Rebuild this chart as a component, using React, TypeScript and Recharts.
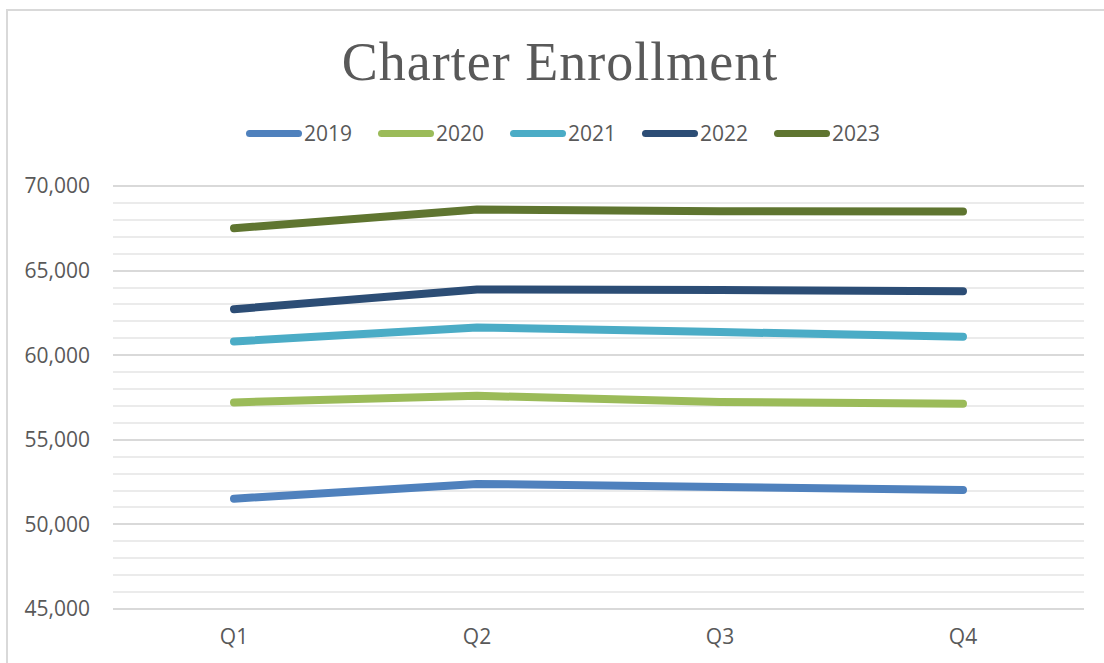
import React from 'react';
import { LineChart, Line, XAxis, YAxis, CartesianGrid } from 'recharts';

const quarters = ['Q1', 'Q2', 'Q3', 'Q4'];
const years = ['2019', '2020', '2021', '2022', '2023'];
const enroll2019 = [51520, 52390, 52210, 52040];
const enroll2020 = [57210, 57600, 57230, 57130];
const enroll2021 = [60815, 61640, 61370, 61090];
const enroll2022 = [62720, 63880, 63850, 63780];
const enroll2023 = [67500, 68610, 68510, 68490];
const yTicks = [45000, 50000, 55000, 60000, 65000, 70000];
const minorTicks = [
    46000, 47000, 48000, 49000, 51000, 52000, 53000, 54000, 56000, 57000, 58000, 59000,
    61000, 62000, 63000, 64000, 66000, 67000, 68000, 69000,
];

const COLORS = ['#4f81bd', '#9bbb59', '#4bacc6', '#2c4d75', '#5f7530'];
const seriesValues = [enroll2019, enroll2020, enroll2021, enroll2022, enroll2023];

const data = quarters.map((q, i) => {
    const row: any = { quarter: q };
    years.forEach((y, j) => { row[y] = seriesValues[j][i]; });
    return row;
});

const TEXT = '#595959';
const FONT = '"Open Sans", sans-serif';

export default function App() {
    return (
        <div style={{ position: 'fixed', left: 0, top: 0, width: 1104, height: 663, overflow: 'hidden', background: '#fff' }}>
            {/* chart frame, only left/top edges visible */}
            <div style={{ position: 'absolute', left: 6, top: 9, width: 1200, height: 800, border: '2px solid #d9d9d9' }} />

            <div style={{
                position: 'absolute', left: 0, top: 35, width: 1120, textAlign: 'center',
                fontFamily: '"Liberation Serif", serif', fontSize: 54, lineHeight: '54px',
                letterSpacing: 1, color: TEXT,
            }}>
                Charter Enrollment
            </div>

            <div style={{ position: 'absolute', left: 246, top: 120, height: 26, display: 'flex' }}>
                {years.map((y, i) => (
                    <div key={y} style={{ width: 132, display: 'flex', alignItems: 'center' }}>
                        <div style={{ width: 56, height: 7, borderRadius: 4, background: COLORS[i] }} />
                        <span style={{ marginLeft: 2, fontFamily: FONT, fontSize: 21, color: TEXT, lineHeight: '26px' }}>{y}</span>
                    </div>
                ))}
            </div>

            <div style={{ position: 'absolute', left: 0, top: 0 }}>
                <LineChart width={1104} height={663} data={data} margin={{ top: 186, right: 20, bottom: 0, left: 0 }}>
                    <CartesianGrid vertical={false} horizontalValues={minorTicks} stroke="#ebebeb" strokeWidth={2} shapeRendering="crispEdges" />
                    <CartesianGrid vertical={false} stroke="#d9d9d9" strokeWidth={2} shapeRendering="crispEdges" />
                    <XAxis
                        dataKey="quarter"
                        axisLine={false}
                        tickLine={false}
                        tickSize={0}
                        tickMargin={20}
                        height={54}
                        padding={{ left: 121, right: 121 }}
                        tick={{ fill: TEXT, fontSize: 21, fontFamily: FONT }}
                    />
                    <YAxis
                        domain={[45000, 70000]}
                        ticks={yTicks}
                        interval={0}
                        axisLine={false}
                        tickLine={false}
                        tickSize={0}
                        tickMargin={23}
                        width={113}
                        tickFormatter={(v: number) => v.toLocaleString('en-US')}
                        tick={{ fill: TEXT, fontSize: 21, fontFamily: FONT }}
                    />
                    {years.map((y, i) => (
                        <Line
                            key={y}
                            type="linear"
                            dataKey={y}
                            stroke={COLORS[i]}
                            strokeWidth={8}
                            strokeLinecap="round"
                            strokeLinejoin="round"
                            dot={false}
                            activeDot={false}
                            isAnimationActive={false}
                        />
                    ))}
                </LineChart>
            </div>
        </div>
    );
}
